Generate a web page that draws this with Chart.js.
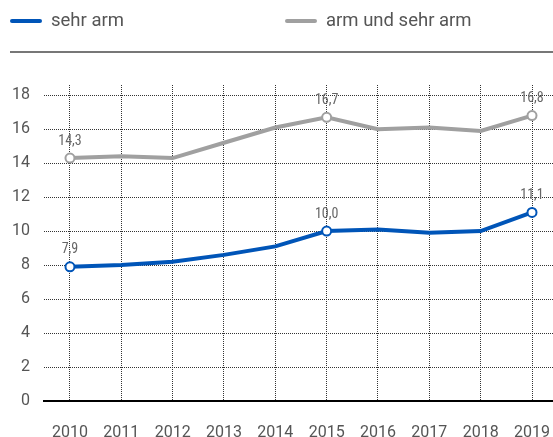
<!DOCTYPE html>
<html><head><meta charset="utf-8">
<script src="https://cdn.jsdelivr.net/npm/chart.js@4/dist/chart.umd.min.js"></script>
<style>
html,body{margin:0;padding:0;background:#fff;}
#wrap{position:relative;width:553px;height:437px;overflow:hidden;}
canvas{position:absolute;left:0;top:0;}
.lg-line{position:absolute;height:4px;border-radius:2px;width:32px;}
.lg-txt{position:absolute;font:18.5px Roboto,"Liberation Sans",sans-serif;color:#555;line-height:22px;}
#rule{position:absolute;left:10px;top:51px;width:543px;height:2px;background:#777;}
</style></head>
<body><div id="wrap">
<canvas id="c" width="560" height="437"></canvas>
<div class="lg-line" style="left:10px;top:19px;background:#0055b8"></div>
<div class="lg-txt" style="left:51px;top:9px">sehr arm</div>
<div class="lg-line" style="left:285px;top:19px;background:#a0a0a0"></div>
<div class="lg-txt" style="left:326px;top:9px">arm und sehr arm</div>
<div id="rule"></div>
</div>
<script>
const years = [2010, 2011, 2012, 2013, 2014, 2015, 2016, 2017, 2018, 2019];
const sehrArm = [7.9, 8.0, 8.2, 8.6, 9.1, 10.0, 10.1, 9.9, 10.0, 11.1];
const armUndSehrArm = [14.3, 14.4, 14.3, 15.2, 16.1, 16.7, 16.0, 16.1, 15.9, 16.8];
const labelledIdx = [0, 5, 9];
const yTicks = [0, 2, 4, 6, 8, 10, 12, 14, 16, 18];

function pts(vals){ return vals.map((v,i)=>({x:years[i], y:v})); }
function radii(){ return years.map((_,i)=>labelledIdx.includes(i)?4.5:0); }

const valueLabels = {
  id:'valueLabels',
  afterDatasetsDraw(chart){
    const ctx = chart.ctx;
    ctx.save();
    ctx.font = '14px "Liberation Sans Narrow","Roboto Condensed",Roboto,sans-serif';
    ctx.fillStyle = '#666';
    ctx.textAlign = 'center';
    ctx.textBaseline = 'middle';
    chart.data.datasets.forEach((ds,di)=>{
      const meta = chart.getDatasetMeta(di);
      labelledIdx.forEach(i=>{
        const p = meta.data[i];
        ctx.fillText(ds.data[i].y.toFixed(1).replace('.', ','), p.x, p.y - 17);
      });
    });
    ctx.restore();
  }
};

const gridStyle = {color:'#333', lineWidth:1, drawTicks:false};

new Chart(document.getElementById('c'), {
  type:'line',
  data:{datasets:[
    {label:'arm und sehr arm', data:pts(armUndSehrArm), borderColor:'#a0a0a0', borderWidth:4,
     pointRadius:radii(), pointBackgroundColor:'#fff', pointBorderColor:'#a0a0a0', pointBorderWidth:2, tension:0},
    {label:'sehr arm', data:pts(sehrArm), borderColor:'#0055b8', borderWidth:4,
     pointRadius:radii(), pointBackgroundColor:'#fff', pointBorderColor:'#0055b8', pointBorderWidth:2, tension:0}
  ]},
  options:{
    responsive:false, animation:false,
    layout:{padding:{top:85,left:0,right:7,bottom:0}},
    plugins:{legend:{display:false}, tooltip:{enabled:false}},
    scales:{
      x:{type:'linear', min:2009.494, max:2019.409,
        afterBuildTicks(s){ s.ticks = years.map(v=>({value:v})); },
        afterFit(s){ s.height = 36; s.paddingLeft = 0; s.paddingRight = 0; },
        grid:Object.assign({}, gridStyle),
        border:{display:true, color:'#000', width:2, dash:[1,1]},
        ticks:{padding:22, color:'#555', font:{family:'Roboto', size:16}, callback:(v)=>String(v), autoSkip:false, maxRotation:0}
      },
      y:{min:0, max:18.6,
        afterBuildTicks(s){ s.ticks = yTicks.map(v=>({value:v})); },
        afterFit(s){ s.width = 44; s.paddingTop = 0; s.paddingBottom = 0; },
        grid:Object.assign({}, gridStyle),
        border:{display:false, dash:[1,1]},
        ticks:{padding:14, color:'#555', font:{family:'Roboto', size:16}}
      }
    }
  },
  plugins:[valueLabels]
});
</script>
</body></html>
